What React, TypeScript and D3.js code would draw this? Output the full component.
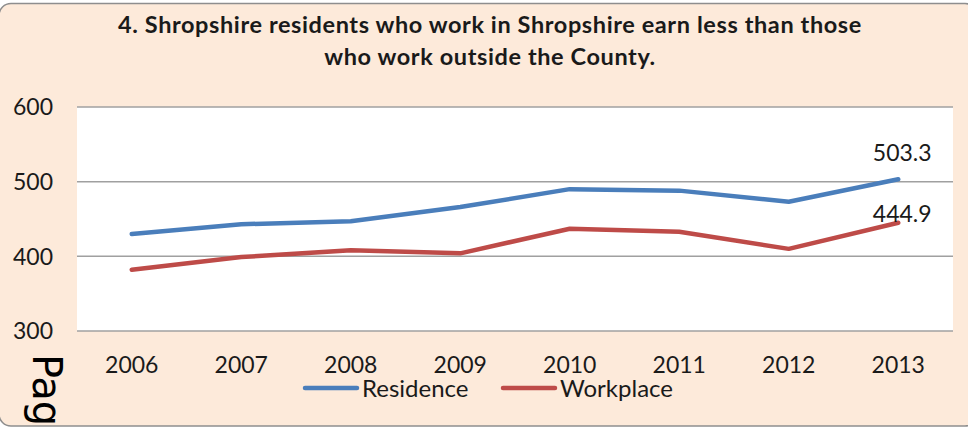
import React from 'react'
import * as d3 from 'd3'

const years = ['2006', '2007', '2008', '2009', '2010', '2011', '2012', '2013']
const residence = [430, 443, 447, 466, 490, 488, 473, 503.3]
const workplace = [382, 399, 408, 404, 437, 433, 410, 444.9]
const yTicks = [300, 400, 500, 600]
const titleLines = [
  '4. Shropshire residents who work in Shropshire earn less than those',
  'who work outside the County.'
]

const W = 968
const H = 428
const plot = { left: 77, right: 953, top: 107, bottom: 331 }
const blue = '#4A7EBB'
const red = '#BE4B48'
const numFont = 'Lato, "Open Sans", sans-serif'

export default function App () {
  const x = d3.scaleBand<string>()
    .domain(years)
    .range([plot.left, plot.right])
  const y = d3.scaleLinear()
    .domain([300, 600])
    .range([plot.bottom, plot.top])

  const line = d3.line<number>()
    .x((d, i) => (x(years[i]) as number) + x.bandwidth() / 2)
    .y(d => y(d))

  const series = [
    { name: 'Residence', values: residence, color: blue, labelDy: -18 },
    { name: 'Workplace', values: workplace, color: red, labelDy: -1 }
  ]

  const last = years.length - 1
  const lastX = (x(years[last]) as number) + x.bandwidth() / 2

  return (
    <svg width={W} height={H} style={{ position: 'absolute', left: 0, top: 0 }}>
      <rect x={-1} y={3.5} width={W + 10} height={422.5} rx={12}
        fill='#FDEADA' stroke='#8E8E8E' strokeWidth={1.5} />

      {titleLines.map((t, i) => (
        <text key={i} x={490} y={33 + i * 32} textAnchor='middle'
          fontFamily='Lato, "Open Sans", sans-serif' fontWeight='bold' fontSize={23.5}
          letterSpacing={0.6} fill='#1a1a1a'>{t}</text>
      ))}

      <rect x={plot.left} y={plot.top} width={plot.right - plot.left}
        height={plot.bottom - plot.top} fill='#fff' />

      {yTicks.map(t => (
        <g key={t}>
          <line x1={plot.left} x2={plot.right} y1={y(t)} y2={y(t)}
            stroke='#A0A0A0' strokeWidth={1.5} />
          <text x={53} y={y(t)} dy='0.36em' textAnchor='end'
            fontFamily={numFont} fontSize={23} fill='#1a1a1a'>{t}</text>
        </g>
      ))}

      {years.map(yr => (
        <text key={yr} x={(x(yr) as number) + x.bandwidth() / 2} y={373}
          textAnchor='middle' fontFamily={numFont} fontSize={23} fill='#1a1a1a'>{yr}</text>
      ))}

      {series.map(s => (
        <g key={s.name}>
          <path d={line(s.values) || ''} fill='none' stroke={s.color}
            strokeWidth={4.5} strokeLinecap='round' strokeLinejoin='round' />
          <text x={lastX + 4} y={y(s.values[last]) + s.labelDy} textAnchor='middle'
            fontFamily={numFont} fontSize={23} fill='#1a1a1a'>{s.values[last].toFixed(1)}</text>
        </g>
      ))}

      {series.map((s, i) => (
        <g key={s.name} transform={`translate(${305 + i * 198},388)`}>
          <line x1={0} x2={52} y1={0} y2={0} stroke={s.color}
            strokeWidth={4.5} strokeLinecap='round' />
          <text x={57} y={0} dy='0.36em' fontFamily={numFont} fontSize={24}
            fill='#1a1a1a'>{s.name}</text>
        </g>
      ))}

      <text transform='translate(33,354) rotate(90)' fontFamily='"DejaVu Sans", sans-serif'
        fontSize={40} fill='#000'>Page</text>
    </svg>
  )
}
